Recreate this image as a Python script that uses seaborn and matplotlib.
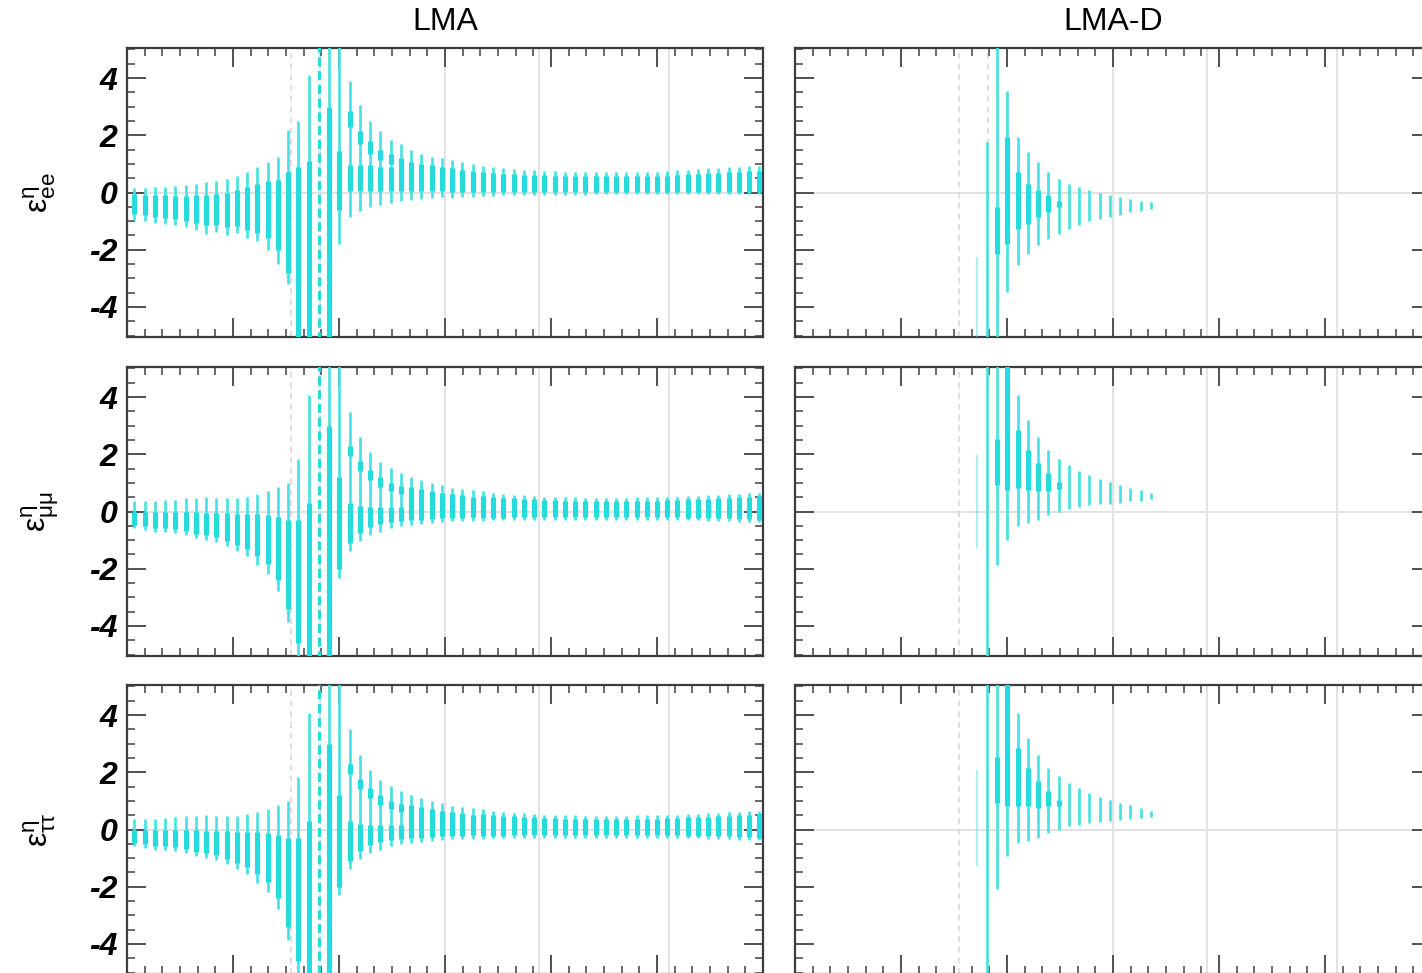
import numpy as np
import pandas as pd
import matplotlib
matplotlib.use("Agg")
import matplotlib.pyplot as plt
import seaborn as sns
from matplotlib.ticker import MultipleLocator

# ---------------- data ----------------
eta = [-87.9, -85.0, -82.1, -79.2, -76.3, -73.4, -70.5, -67.6, -64.7, -61.8,
       -58.9, -56.0, -53.1, -50.2, -47.3, -44.4, -41.5, -38.6, -35.7, -32.8,
       -29.9, -27.0, -24.1, -21.2, -18.3, -15.4, -12.5, -9.6, -6.7, -3.8,
       -0.9, 2.0, 4.9, 7.8, 10.7, 13.6, 16.5, 19.4, 22.3, 25.2,
       28.1, 31.0, 33.9, 36.8, 39.7, 42.6, 45.5, 48.4, 51.3, 54.2,
       57.1, 60.0, 62.9, 65.8, 68.7, 71.6, 74.5, 77.4, 80.3, 83.2,
       86.1, 89.0]
eta_lmad = eta[17:35]
singular_eta = -35.7
grid_eta = [0.0, 26.57, 63.43]
ref_eta = [-43.7, -35.5]
col_titles = ["LMA", "LMA-D"]
row_labels = [r"$\mathregular{ε^{η}_{ee}}$", r"$\mathregular{ε^{η}_{μμ}}$", r"$\mathregular{ε^{η}_{ττ}}$"]
ytick_vals = [-4, -2, 0, 2, 4]

# LMA, ee
lma_ee_hi = [0.15, 0.17, 0.18, 0.20, 0.22, 0.25, 0.30, 0.35, 0.40, 0.47,
             0.58, 0.72, 0.88, 1.05, 1.25, 2.20, 2.50, 4.10, 5.2, 5.2,
             5.2, 3.90, 3.05, 2.50, 2.15, 1.82, 1.68, 1.50, 1.36, 1.24,
             1.20, 1.12, 1.06, 1.00, 0.94, 0.88, 0.85, 0.82, 0.80, 0.77,
             0.76, 0.74, 0.73, 0.73, 0.71, 0.71, 0.71, 0.71, 0.71, 0.71,
             0.72, 0.73, 0.74, 0.77, 0.79, 0.83, 0.85, 0.86, 0.88, 0.90,
             0.92, 0.94]
lma_ee_lo = [-0.95, -1.00, -1.05, -1.10, -1.15, -1.22, -1.32, -1.45, -1.38, -1.50,
             -1.42, -1.60, -1.70, -2.00, -2.50, -3.20, -5.2, -5.2, -5.2, -5.2,
             -1.80, -0.85, -0.65, -0.52, -0.42, -0.35, -0.30, -0.25, -0.22, -0.20,
             -0.17, -0.18, -0.16, -0.14, -0.11, -0.11, -0.10, -0.09, -0.09, -0.09,
             -0.07, -0.07, -0.07, -0.07, -0.07, -0.06, -0.06, -0.05, -0.05, -0.05,
             -0.05, -0.04, -0.04, -0.04, -0.04, -0.04, -0.04, -0.04, -0.04, -0.04,
             -0.04, -0.04]
lma_ee_core_hi = [-0.05, -0.08, -0.10, -0.10, -0.12, -0.12, -0.10, -0.10, -0.05, 0.00,
                  0.10, 0.20, 0.30, 0.40, 0.45, 0.70, 0.90, 1.10, np.nan, 3.00,
                  1.45, 0.95, 0.95, 0.95, 0.90, 0.90, 1.20, 1.05, 1.00, 0.95,
                  0.90, 0.85, 0.80, 0.76, 0.72, 0.68, 0.66, 0.64, 0.62, 0.60,
                  0.60, 0.58, 0.58, 0.58, 0.57, 0.57, 0.57, 0.57, 0.57, 0.57,
                  0.58, 0.58, 0.59, 0.61, 0.63, 0.66, 0.68, 0.69, 0.70, 0.72,
                  0.74, 0.76]
lma_ee_core_lo = [-0.75, -0.80, -0.85, -0.88, -0.92, -0.98, -1.05, -1.15, -1.12, -1.20,
                  -1.18, -1.30, -1.40, -1.60, -2.00, -2.80, -5.2, -5.2, np.nan, -5.2,
                  -0.60, 0.05, 0.05, 0.05, 0.05, 0.05, 0.05, 0.05, 0.05, 0.05,
                  0.05, 0.02, 0.02, 0.02, 0.02, 0.02, 0.02, 0.02, 0.02, 0.02,
                  0.03, 0.03, 0.03, 0.03, 0.03, 0.03, 0.03, 0.03, 0.03, 0.03,
                  0.03, 0.03, 0.03, 0.03, 0.03, 0.03, 0.03, 0.03, 0.03, 0.03,
                  0.03, 0.03]
lma_ee_blob_idx = [21, 22, 23, 24, 25]
lma_ee_blob_hi = [2.85, 2.15, 1.80, 1.50, 1.35]
lma_ee_blob_lo = [2.30, 1.70, 1.35, 1.15, 1.00]

# LMA, mumu
lma_mm_hi = [0.35, 0.37, 0.37, 0.41, 0.41, 0.46, 0.48, 0.50, 0.46, 0.46,
             0.48, 0.52, 0.60, 0.72, 0.87, 0.99, 1.85, 4.06, 5.2, 5.2,
             5.2, 3.48, 2.61, 2.09, 1.74, 1.51, 1.33, 1.22, 1.10, 0.99,
             0.93, 0.83, 0.80, 0.75, 0.70, 0.66, 0.62, 0.59, 0.56, 0.54,
             0.52, 0.51, 0.50, 0.49, 0.48, 0.48, 0.48, 0.48, 0.48, 0.49,
             0.49, 0.50, 0.51, 0.52, 0.54, 0.55, 0.57, 0.58, 0.60, 0.62,
             0.64, 0.66]
lma_mm_lo = [-0.58, -0.64, -0.70, -0.70, -0.76, -0.81, -0.93, -0.99, -1.05, -1.22,
             -1.39, -1.55, -1.86, -2.20, -2.78, -3.85, -5.2, -5.2, -5.2, -5.2,
             -2.32, -1.39, -1.04, -0.81, -0.70, -0.58, -0.52, -0.46, -0.44, -0.41,
             -0.35, -0.33, -0.33, -0.32, -0.32, -0.31, -0.31, -0.30, -0.30, -0.30,
             -0.29, -0.29, -0.29, -0.29, -0.28, -0.28, -0.28, -0.28, -0.28, -0.28,
             -0.29, -0.29, -0.30, -0.30, -0.31, -0.31, -0.32, -0.33, -0.34, -0.35,
             -0.36, -0.38]
lma_mm_core_hi = [0.00, 0.00, 0.00, 0.00, -0.02, -0.02, -0.02, -0.05, -0.05, -0.05,
                  -0.08, -0.10, -0.10, -0.12, -0.20, -0.30, -0.30, 0.30, np.nan, 3.00,
                  1.20, 0.30, 0.20, 0.15, 0.15, 0.15, 0.15, 0.85, 0.78, 0.72,
                  0.66, 0.60, 0.56, 0.52, 0.55, 0.52, 0.48, 0.46, 0.44, 0.42,
                  0.40, 0.39, 0.38, 0.37, 0.36, 0.36, 0.36, 0.36, 0.36, 0.37,
                  0.37, 0.38, 0.39, 0.40, 0.42, 0.43, 0.45, 0.46, 0.48, 0.50,
                  0.52, 0.54]
lma_mm_core_lo = [-0.48, -0.52, -0.56, -0.58, -0.62, -0.68, -0.78, -0.82, -0.88, -1.02,
                  -1.18, -1.30, -1.55, -1.85, -2.40, -3.40, -4.60, -5.2, np.nan, -5.2,
                  -2.00, -1.10, -0.75, -0.55, -0.45, -0.38, -0.33, -0.28, -0.28, -0.26,
                  -0.24, -0.22, -0.22, -0.20, -0.22, -0.21, -0.21, -0.20, -0.20, -0.20,
                  -0.19, -0.19, -0.19, -0.19, -0.18, -0.18, -0.18, -0.18, -0.18, -0.18,
                  -0.19, -0.19, -0.20, -0.20, -0.21, -0.21, -0.22, -0.23, -0.24, -0.25,
                  -0.26, -0.28]
lma_mm_blob_idx = [21, 22, 23, 24, 25, 26]
lma_mm_blob_hi = [2.30, 1.75, 1.45, 1.20, 1.00, 0.90]
lma_mm_blob_lo = [1.95, 1.40, 1.10, 0.85, 0.70, 0.60]

# LMA, tautau
lma_tt_hi = [0.35, 0.37, 0.38, 0.41, 0.42, 0.46, 0.48, 0.50, 0.47, 0.46,
             0.48, 0.53, 0.60, 0.72, 0.87, 1.00, 1.85, 4.06, 5.2, 5.2,
             5.2, 3.50, 2.62, 2.09, 1.74, 1.51, 1.33, 1.22, 1.10, 0.99,
             0.93, 0.83, 0.80, 0.75, 0.70, 0.66, 0.62, 0.59, 0.56, 0.54,
             0.52, 0.51, 0.50, 0.49, 0.48, 0.48, 0.48, 0.48, 0.48, 0.49,
             0.49, 0.50, 0.51, 0.52, 0.54, 0.55, 0.57, 0.58, 0.60, 0.62,
             0.64, 0.66]
lma_tt_lo = [-0.58, -0.64, -0.70, -0.71, -0.76, -0.81, -0.93, -0.99, -1.05, -1.22,
             -1.39, -1.55, -1.86, -2.20, -2.78, -3.85, -5.2, -5.2, -5.2, -5.2,
             -2.30, -1.39, -1.04, -0.81, -0.70, -0.58, -0.52, -0.46, -0.44, -0.41,
             -0.35, -0.33, -0.33, -0.32, -0.32, -0.31, -0.31, -0.30, -0.30, -0.30,
             -0.29, -0.29, -0.29, -0.29, -0.28, -0.28, -0.28, -0.28, -0.28, -0.28,
             -0.29, -0.29, -0.30, -0.30, -0.31, -0.31, -0.32, -0.33, -0.34, -0.35,
             -0.36, -0.38]
lma_tt_core_hi = [0.00, 0.00, 0.00, 0.00, -0.02, -0.02, -0.02, -0.05, -0.05, -0.05,
                  -0.08, -0.10, -0.10, -0.12, -0.20, -0.30, -0.30, 0.30, np.nan, 3.00,
                  1.20, 0.30, 0.20, 0.15, 0.15, 0.15, 0.15, 0.85, 0.78, 0.72,
                  0.66, 0.60, 0.56, 0.52, 0.55, 0.52, 0.48, 0.46, 0.44, 0.42,
                  0.40, 0.39, 0.38, 0.37, 0.36, 0.36, 0.36, 0.36, 0.36, 0.37,
                  0.37, 0.38, 0.39, 0.40, 0.42, 0.43, 0.45, 0.46, 0.48, 0.50,
                  0.52, 0.54]
lma_tt_core_lo = [-0.48, -0.52, -0.56, -0.58, -0.62, -0.68, -0.78, -0.82, -0.88, -1.02,
                  -1.18, -1.30, -1.55, -1.85, -2.40, -3.40, -4.60, -5.2, np.nan, -5.2,
                  -2.00, -1.10, -0.75, -0.55, -0.45, -0.38, -0.33, -0.28, -0.28, -0.26,
                  -0.24, -0.22, -0.22, -0.20, -0.22, -0.21, -0.21, -0.20, -0.20, -0.20,
                  -0.19, -0.19, -0.19, -0.19, -0.18, -0.18, -0.18, -0.18, -0.18, -0.18,
                  -0.19, -0.19, -0.20, -0.20, -0.21, -0.21, -0.22, -0.23, -0.24, -0.25,
                  -0.26, -0.28]
lma_tt_blob_idx = [21, 22, 23, 24, 25, 26]
lma_tt_blob_hi = [2.30, 1.75, 1.45, 1.20, 1.00, 0.90]
lma_tt_blob_lo = [1.95, 1.40, 1.10, 0.85, 0.70, 0.60]

# LMA-D, ee
lmad_ee_hi = [-2.26, 1.77, 5.2, 3.56, 1.93, 1.41, 1.06, 0.71, 0.48, 0.30,
              0.19, 0.07, -0.02, -0.10, -0.16, -0.22, -0.28, -0.34]
lmad_ee_lo = [-5.2, -5.2, -5.2, -3.48, -2.55, -2.14, -1.85, -1.62, -1.44, -1.27,
              -1.15, -0.98, -0.92, -0.86, -0.77, -0.69, -0.63, -0.57]
lmad_ee_core_hi = [np.nan, np.nan, -0.51, 1.93, 0.71, 0.30, 0.07, -0.10, -0.28, np.nan,
                   np.nan, np.nan, np.nan, np.nan, np.nan, np.nan, np.nan, np.nan]
lmad_ee_core_lo = [np.nan, np.nan, -2.14, -1.79, -1.27, -1.09, -0.86, -0.69, -0.51, np.nan,
                   np.nan, np.nan, np.nan, np.nan, np.nan, np.nan, np.nan, np.nan]

# LMA-D, mumu
lmad_mm_hi = [1.97, 5.2, 5.2, 5.2, 4.06, 3.19, 2.61, 2.14, 1.83, 1.62,
              1.41, 1.28, 1.14, 1.02, 0.93, 0.81, 0.75, 0.66]
lmad_mm_lo = [-1.28, -5.2, -1.86, -0.99, -0.52, -0.41, -0.29, -0.12, 0.00, 0.09,
              0.17, 0.23, 0.26, 0.26, 0.29, 0.35, 0.37, 0.43]
lmad_mm_core_hi = [np.nan, np.nan, 2.55, 5.2, 2.84, 2.14, 1.68, 1.33, 1.02, np.nan,
                   np.nan, np.nan, np.nan, np.nan, np.nan, np.nan, np.nan, np.nan]
lmad_mm_core_lo = [np.nan, np.nan, 0.93, 0.75, 0.81, 0.75, 0.70, 0.72, 0.79, np.nan,
                   np.nan, np.nan, np.nan, np.nan, np.nan, np.nan, np.nan, np.nan]

# LMA-D, tautau
lmad_tt_hi = [2.09, 5.2, 5.2, 5.2, 4.06, 3.19, 2.61, 2.14, 1.86, 1.62,
              1.45, 1.28, 1.14, 1.02, 0.93, 0.85, 0.75, 0.66]
lmad_tt_lo = [-1.28, -5.2, -2.09, -0.93, -0.46, -0.41, -0.29, -0.12, 0.00, 0.12,
              0.17, 0.23, 0.27, 0.29, 0.32, 0.37, 0.41, 0.44]
lmad_tt_core_hi = [np.nan, np.nan, 2.55, 5.2, 2.84, 2.14, 1.68, 1.33, 1.04, np.nan,
                   np.nan, np.nan, np.nan, np.nan, np.nan, np.nan, np.nan, np.nan]
lmad_tt_core_lo = [np.nan, np.nan, 0.93, 0.81, 0.81, 0.81, 0.75, 0.81, 0.81, np.nan,
                   np.nan, np.nan, np.nan, np.nan, np.nan, np.nan, np.nan, np.nan]
lmad_faint_idx = [0]

# ---------------- style ----------------
sns.set_theme(style="white")
plt.rcParams["font.family"] = ["Liberation Sans", "DejaVu Sans"]
plt.rcParams["mathtext.fontset"] = "custom"
plt.rcParams["mathtext.rm"] = "Liberation Sans"
plt.rcParams["mathtext.it"] = "Liberation Sans:italic"
plt.rcParams["axes.unicode_minus"] = False
plt.rcParams["text.color"] = "black"

THIN_C = "#45e2e2"
THICK_C = "#25dcdc"
FRAME_C = "#3c3c3c"
TICK_C = "#505050"
THIN_LW = 1.9
THICK_LW = 3.7


def draw_segments(ax, xs, lo, hi, lw, color, ls="-", alpha=1.0):
    rows = []
    for k, (xx, a, b) in enumerate(zip(xs, lo, hi)):
        if a is None or b is None or np.isnan(a) or np.isnan(b):
            continue
        rows.append((k, xx, a))
        rows.append((k, xx, b))
    if not rows:
        return
    df = pd.DataFrame(rows, columns=["bar", "eta", "val"])
    sns.lineplot(data=df, x="eta", y="val", units="bar", estimator=None,
                 sort=False, ax=ax, color=color, lw=lw, ls=ls, alpha=alpha,
                 solid_capstyle="butt", legend=False, zorder=3)


def panel(ax, xs, hi, lo, chi, clo, bidx=None, bhi=None, blo=None,
          dashed_x=None, faint=None, show_ylabels=True):
    ax.axhline(0, color="#e2e2e2", lw=1.4, zorder=0)
    for g in grid_eta:
        ax.axvline(g, color="#e2e2e2", lw=1.4, zorder=0)
    for d in ref_eta:
        ax.axvline(d, color="#d6d6d6", lw=1.1, ls=(0, (4, 3)), zorder=0)
    hi_n = list(hi)
    lo_n = list(lo)
    if dashed_x is not None:
        k = xs.index(dashed_x)
        draw_segments(ax, [dashed_x], [lo_n[k]], [hi_n[k]], lw=2.2,
                      color=THICK_C, ls=(0, (3, 1.5)))
        hi_n[k] = np.nan
        lo_n[k] = np.nan
    if faint:
        for k in faint:
            draw_segments(ax, [xs[k]], [lo_n[k]], [hi_n[k]], lw=1.5,
                          color=THIN_C, alpha=0.45)
            hi_n[k] = np.nan
            lo_n[k] = np.nan
    draw_segments(ax, xs, lo_n, hi_n, lw=THIN_LW, color=THIN_C)
    draw_segments(ax, xs, clo, chi, lw=THICK_LW, color=THICK_C)
    if bidx:
        draw_segments(ax, [xs[i] for i in bidx], blo, bhi, lw=THICK_LW,
                      color=THICK_C)

    ax.set_xlim(-90, 90)
    ax.set_ylim(-5.05, 5.05)
    ax.set_xlabel("")
    ax.set_ylabel("")
    ax.xaxis.set_major_locator(MultipleLocator(30))
    ax.xaxis.set_minor_locator(MultipleLocator(5))
    ax.set_yticks(ytick_vals)
    ax.yaxis.set_minor_locator(MultipleLocator(0.5))
    ax.tick_params(which="major", direction="in", length=14, width=1.4,
                   color=TICK_C, top=True, bottom=True, left=True, right=True,
                   labelbottom=False, labelleft=show_ylabels, labelsize=23,
                   pad=7, labelcolor="black")
    ax.tick_params(which="minor", direction="in", length=6, width=1.2,
                   color=TICK_C, top=True, bottom=True, left=True, right=True)
    for sp in ax.spines.values():
        sp.set_color(FRAME_C)
        sp.set_linewidth(1.6)
    if show_ylabels:
        ax.set_yticklabels([str(v) for v in ytick_vals])
        for t in ax.get_yticklabels():
            t.set_fontstyle("italic")
            t.set_fontweight("bold")


W, H = 1422, 973
fig = plt.figure(figsize=(W / 100, H / 100), dpi=100)
col_left_px = [127, 795]
row_top_px = [48, 367, 685]
pw, ph = 636, 289

lma_data = [
    (lma_ee_hi, lma_ee_lo, lma_ee_core_hi, lma_ee_core_lo, lma_ee_blob_idx, lma_ee_blob_hi, lma_ee_blob_lo),
    (lma_mm_hi, lma_mm_lo, lma_mm_core_hi, lma_mm_core_lo, lma_mm_blob_idx, lma_mm_blob_hi, lma_mm_blob_lo),
    (lma_tt_hi, lma_tt_lo, lma_tt_core_hi, lma_tt_core_lo, lma_tt_blob_idx, lma_tt_blob_hi, lma_tt_blob_lo),
]
lmad_data = [
    (lmad_ee_hi, lmad_ee_lo, lmad_ee_core_hi, lmad_ee_core_lo),
    (lmad_mm_hi, lmad_mm_lo, lmad_mm_core_hi, lmad_mm_core_lo),
    (lmad_tt_hi, lmad_tt_lo, lmad_tt_core_hi, lmad_tt_core_lo),
]

for r in range(3):
    y0 = 1 - (row_top_px[r] + ph) / H
    axL = fig.add_axes([col_left_px[0] / W, y0, pw / W, ph / H])
    hi, lo, chi, clo, bi, bh, bl = lma_data[r]
    panel(axL, eta, hi, lo, chi, clo, bi, bh, bl, dashed_x=singular_eta,
          show_ylabels=True)
    axR = fig.add_axes([col_left_px[1] / W, y0, pw / W, ph / H])
    hi, lo, chi, clo = lmad_data[r]
    panel(axR, eta_lmad, hi, lo, chi, clo, faint=lmad_faint_idx,
          show_ylabels=False)
    yc = 1 - (row_top_px[r] + 145) / H
    fig.text(40 / W, yc, row_labels[r], rotation=90, fontsize=23,
             ha="center", va="center")

fig.text((127 + 318) / W, 1 - 22 / H, col_titles[0], fontsize=23,
         ha="center", va="center")
fig.text((795 + 318) / W, 1 - 22 / H, col_titles[1], fontsize=23,
         ha="center", va="center")

fig.savefig("out.png", dpi=100)
